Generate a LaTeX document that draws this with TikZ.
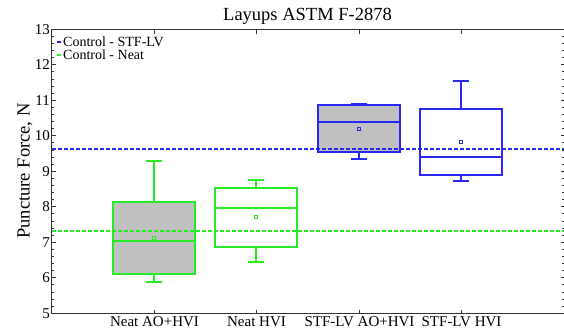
\documentclass[tikz,border=0pt]{standalone}
\usepackage{fontspec}
\setmainfont{Liberation Serif}
\definecolor{axisgray}{RGB}{51,51,51}
\definecolor{neatgreen}{RGB}{40,235,40}
\definecolor{stfblue}{RGB}{40,40,240}
\definecolor{boxgray}{RGB}{192,192,192}
\tikzset{
  x=1bp, y=1bp,
  axisline/.style={draw=axisgray, line width=1.4bp},
  majtick/.style={draw=axisgray, line width=1bp},
  mintick/.style={draw=axisgray, line width=1bp},
  neatbox/.style={draw=neatgreen, line width=1.25bp},
  stfbox/.style={draw=stfblue, line width=1.25bp},
  refline/.style={line width=1.05bp, dash pattern=on 4bp off 2bp},
  ticklab/.style={font=\fontsize{15bp}{18bp}\selectfont, inner sep=0pt},
  catlab/.style={font=\fontsize{15bp}{18bp}\selectfont, inner sep=0pt, anchor=base},
  leglab/.style={font=\fontsize{14bp}{16bp}\selectfont, inner sep=0pt, anchor=west},
  bigtext/.style={font=\fontsize{18.5bp}{22bp}\selectfont, inner sep=0pt},
}
% data value -> vertical position, category index -> horizontal position
\def\ypix#1{(round(18.7+((#1)-5)*35.5))}
\def\tpix#1{(floor(18.7+((#1)-5)*35.5)+0.5)}
\def\xpix#1{(round(51.7+(#1)*102.4))}
% box plot: #1 category, #2 line style, #3 fill colour,
% #4 lower whisker, #5 Q1, #6 median, #7 Q3, #8 upper whisker, #9 mean
\newcommand\bplot[9]{%
  \pgfmathsetmacro\bxc{\xpix{#1}}%
  \pgfmathsetmacro\bxl{\bxc-41}%
  \pgfmathsetmacro\bxr{\bxc+41}%
  \pgfmathsetmacro\bwa{\ypix{#4}}%
  \pgfmathsetmacro\bqa{\ypix{#5}}%
  \pgfmathsetmacro\bmd{\ypix{#6}}%
  \pgfmathsetmacro\bqb{\ypix{#7}}%
  \pgfmathsetmacro\bwb{\ypix{#8}}%
  \pgfmathsetmacro\bmn{\ypix{#9}}%
  \fill[#3] (\bxl,\bqa) rectangle (\bxr,\bqb);
  \draw[#2] (\bxc,\bqb) -- (\bxc,\bwb) (\bxc,\bqa) -- (\bxc,\bwa);
  \draw[#2] (\bxc-8,\bwb) -- (\bxc+8,\bwb);
  \draw[#2] (\bxc-8,\bwa) -- (\bxc+8,\bwa);
  \draw[#2] (\bxl,\bqa) rectangle (\bxr,\bqb);
  \draw[#2] (\bxl,\bmd) -- (\bxr,\bmd);
  \draw[#2, line width=1bp] (\bxc-1.5,\bmn-1.5) rectangle (\bxc+1.5,\bmn+1.5);
}
\begin{document}
\begin{tikzpicture}
\useasboundingbox (0,0) rectangle (564,332);

% title and axis name
\node[bigtext] (title) at (307.5,316) {Layups ASTM F-2878};
\node[bigtext, rotate=90] (ylabel) at (25,161) {Puncture Force, N};

% boxes
\bplot{1}{neatbox}{boxgray}{5.87}{6.12}{7.05}{8.13}{9.28}{7.12}
\bplot{2}{neatbox}{white}{6.44}{6.87}{7.97}{8.54}{8.75}{7.70}
\bplot{3}{stfbox}{boxgray}{9.35}{9.54}{10.40}{10.87}{10.89}{10.19}
\bplot{4}{stfbox}{white}{8.72}{8.89}{9.41}{10.75}{11.55}{9.82}

% control levels
\pgfmathsetmacro\ctlstf{\ypix{9.62}}
\pgfmathsetmacro\ctlneat{\ypix{7.32}}
\draw[refline, draw=stfblue] (51.5,\ctlstf) -- (565,\ctlstf);
\draw[refline, draw=neatgreen] (51.5,\ctlneat) -- (565,\ctlneat);

% frame
\pgfmathsetmacro\ftop{\tpix{13}}
\pgfmathsetmacro\fbot{\tpix{5}}
\draw[axisline] (565,\ftop) -- (51.5,\ftop) -- (51.5,\fbot) -- (565,\fbot);

% vertical ticks, left and right
\foreach \i in {0,...,40} {
  \pgfmathsetmacro\ty{\tpix{5+\i*0.2}}
  \draw[mintick] (51.5,\ty) -- ++(2.5,0);
  \draw[mintick] (564,\ty) -- ++(-2,0);
}
\foreach \v in {5,...,13} {
  \pgfmathsetmacro\ty{\tpix{\v}}
  \draw[majtick] (51.5,\ty) -- ++(4.5,0);
  \draw[majtick] (564,\ty) -- ++(-3.5,0);
  \node[ticklab, anchor=east] (ylab\v) at (50,\ty) {\v};
}

% category ticks, bottom and top, and category names
\foreach \k/\name in {1/Neat AO+HVI, 2/Neat HVI, 3/STF-LV AO+HVI, 4/STF-LV HVI} {
  \pgfmathsetmacro\tx{\xpix{\k}+0.5}
  \draw[majtick] (\tx,\fbot) -- ++(0,4);
  \draw[majtick] (\tx,\ftop) -- ++(0,-4);
  \node[catlab] (cat\k) at (\tx,\fbot-13.4) {\name};
}

% legend
\draw[draw=stfblue, line width=1.05bp] (56.5,290) -- (61,290);
\node[leglab] (leg1) at (63,290.3) {Control - STF-LV};
\draw[draw=neatgreen, line width=1.05bp] (56.5,277) -- (61,277);
\node[leglab] (leg2) at (63,277.3) {Control - Neat};
\end{tikzpicture}
\end{document}
